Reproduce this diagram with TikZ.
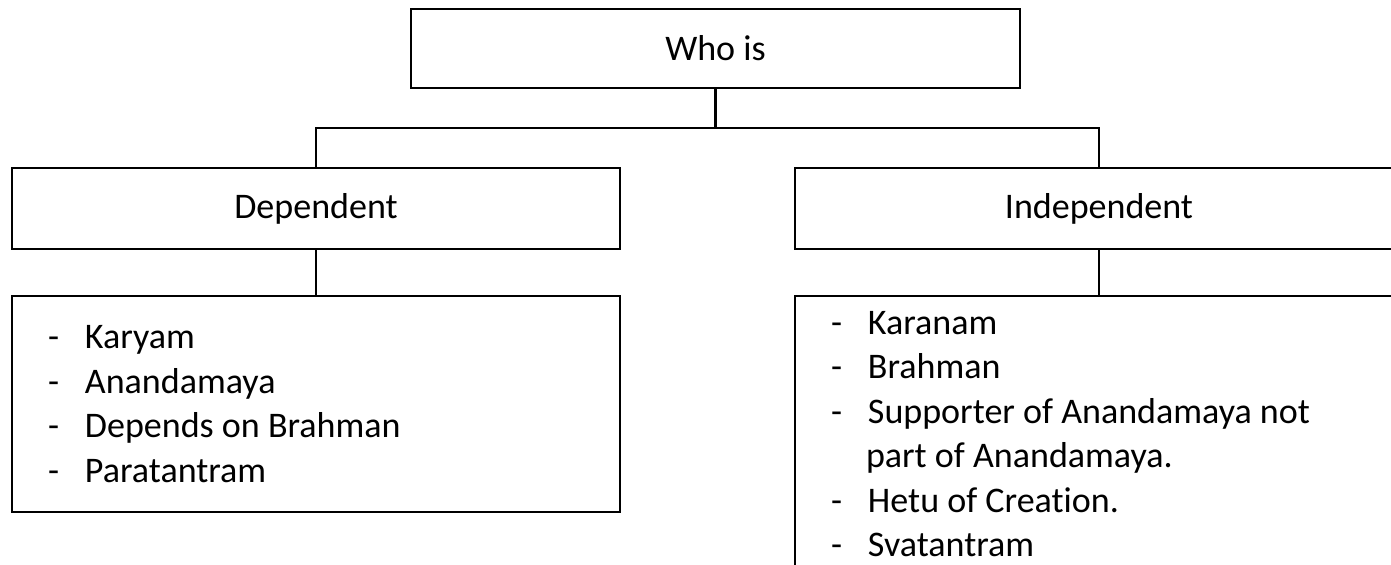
\documentclass[tikz,border=0pt]{standalone}
\usepackage{fontspec}
\setmainfont{Carlito}[Ligatures=NoCommon]
\usetikzlibrary{calc,positioning}

\tikzset{
  label box/.style={
    draw,rectangle,
    minimum width=12.16cm, minimum height=1.62cm,
    font=\fontsize{20.5}{25.3}\selectfont
  },
  list box/.style={
    draw,rectangle,
    minimum width=12.16cm,
    inner xsep=0.72cm, text width=10.72cm, align=flush left,
    font=\fontsize{20.5}{25.3}\selectfont
  }
}
\newcommand{\dashitem}[1]{\makebox[0.74cm][l]{-}#1}

\begin{document}
\begin{tikzpicture}[line width=1.2pt]
  \useasboundingbox (0,0) rectangle (27.82,-11.28);
  \clip (0,0) rectangle (27.82,-11.28);

  \node [label box,minimum width=12.18cm,minimum height=1.58cm] at(14.31,-0.97) (who) {Who is};
  \coordinate (fork) at(14.31,-2.56);

  \node [label box] at(6.32,-4.17) (dep) {Dependent};
  \node [label box] at(21.98,-4.17) (indep) {Independent};

  % the two lists hang below their headings
  \node [list box,minimum height=4.32cm] at(6.32,-8.08) (deplist) {%
    \dashitem{Karyam}\\
    \dashitem{Anandamaya}\\
    \dashitem{Depends on Brahman}\\
    \dashitem{Paratantram}};
  \node [list box,minimum height=5.52cm] at(21.98,-8.68) (indeplist) {%
    \dashitem{Karanam}\\
    \dashitem{Brahman}\\
    \dashitem{Supporter of Anandamaya not}\\
    \hspace*{0.70cm}part of Anandamaya.\\
    \dashitem{Hetu of Creation.}\\
    \dashitem{Svatantram}};

  \draw (who.south) -- (fork);
  \draw (dep.north) |- (fork) -| (indep.north);
  \draw (dep.south) -- (deplist.north);
  \draw (indep.south) -- (indeplist.north);
\end{tikzpicture}
\end{document}
